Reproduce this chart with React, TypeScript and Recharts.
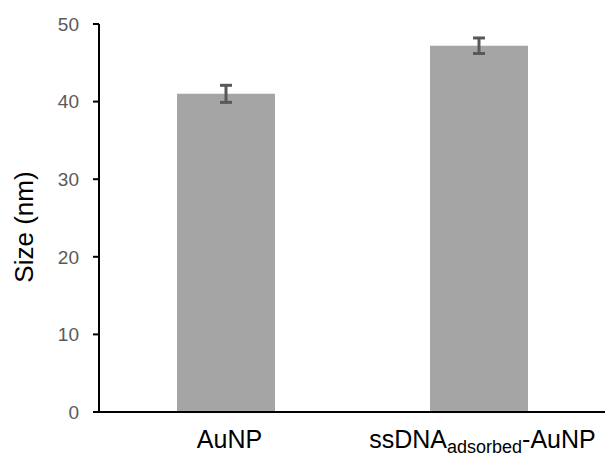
import React from 'react';
import { BarChart, Bar, XAxis, YAxis, ErrorBar } from 'recharts';

const categories = ['AuNP', 'ssDNA_adsorbed-AuNP'];
const sizes = [41.0, 47.2];
const sizeErrors = [1.1, 1.0];
const yTicks = [0, 10, 20, 30, 40, 50];

const FONT = '"Liberation Sans", Arial, sans-serif';

// "ssDNA_adsorbed-AuNP" -> main text, subscript, tail
function CategoryTick({ x, y, payload }: any) {
  const value: string = payload.value;
  const [main, rest] = value.split('_');
  let sub = '';
  let tail = '';
  if (rest) {
    const i = rest.indexOf('-');
    sub = rest.slice(0, i);
    tail = rest.slice(i);
  }
  return (
    <text x={x + 4} y={y + 28} textAnchor="middle" fontFamily={FONT} fontSize={25} fill="#000">
      <tspan>{main}</tspan>
      {sub && (
        <tspan fontSize={18} dy={5}>
          {sub}
        </tspan>
      )}
      {tail && <tspan dy={-5}>{tail}</tspan>}
    </text>
  );
}

function YLabel({ viewBox }: any) {
  const cx = viewBox.x + 24;
  const cy = viewBox.y + viewBox.height / 2 + 9;
  return (
    <text
      x={cx}
      y={cy}
      transform={`rotate(-90, ${cx}, ${cy})`}
      textAnchor="middle"
      dominantBaseline="central"
      fontFamily={FONT}
      fontSize={26}
      fill="#000"
    >
      Size (nm)
    </text>
  );
}

export default function App() {
  const data = categories.map((name, i) => ({ name, size: sizes[i], err: sizeErrors[i] }));

  return (
    <div style={{ position: 'absolute', left: 0, top: 0, background: '#fff' }}>
      <BarChart width={606} height={459} data={data} margin={{ top: 24, right: 1, bottom: 0, left: 0 }}>
        <XAxis
          dataKey="name"
          height={47}
          axisLine={{ stroke: '#000', strokeWidth: 2 }}
          tickLine={false}
          tick={<CategoryTick />}
          interval={0}
        />
        <YAxis
          width={99}
          domain={[0, 50]}
          ticks={yTicks}
          axisLine={{ stroke: '#000', strokeWidth: 2 }}
          tickLine={{ stroke: '#000', strokeWidth: 2 }}
          tickSize={6}
          tickMargin={14}
          tick={{ fontSize: 19, fill: '#595959', fontFamily: FONT }}
          label={<YLabel />}
        />
        <Bar dataKey="size" fill="#a5a5a5" barSize={98} isAnimationActive={false}>
          <ErrorBar dataKey="err" width={6} stroke="#595959" strokeWidth={3} isAnimationActive={false} />
        </Bar>
      </BarChart>
    </div>
  );
}
